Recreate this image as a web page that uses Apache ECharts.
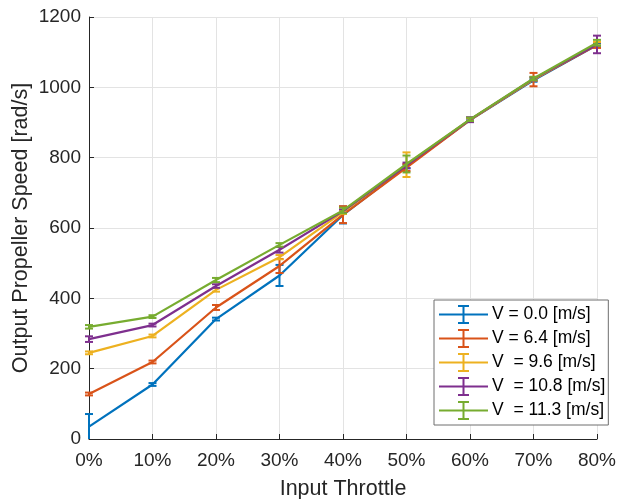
<!DOCTYPE html>
<html>
<head>
<meta charset="utf-8">
<script src="https://cdn.jsdelivr.net/npm/echarts@6/dist/echarts.min.js"></script>
<style>
  html, body { margin: 0; padding: 0; background: #fff; }
  #chart { width: 619px; height: 499px; }
</style>
</head>
<body>
<div id="chart"></div>
<script>
// Throttle settings (%)
const throttle = [0, 10, 20, 30, 40, 50, 60, 70, 80];

// Mean propeller speed [rad/s] per airspeed
const speedV00  = [35, 155, 341, 465, 637, 775, 907, 1020, 1120];
const speedV64  = [128, 219, 374, 492, 638, 772, 907, 1022, 1120];
const speedV96  = [245, 293, 424, 517, 645, 780, 908, 1023, 1124];
const speedV108 = [284, 324, 435, 538, 648, 778, 908, 1024, 1122];
const speedV113 = [319, 348, 452, 552, 650, 782, 909, 1025, 1127];

// Error half-widths [rad/s]
const errV00  = [36, 4, 4, 30, 24, 5, 4, 4, 5];
const errV64  = [4, 4, 7, 20, 24, 10, 5, 19, 8];
const errV96  = [4, 4, 5, 6, 5, 35, 5, 5, 5];
const errV108 = [8, 4, 5, 8, 5, 8, 7, 5, 25];
const errV113 = [5, 4, 6, 5, 8, 24, 5, 5, 8];

const seriesNames = ['V = 0.0 [m/s]', 'V = 6.4 [m/s]', 'V  = 9.6 [m/s]', 'V  = 10.8 [m/s]', 'V  = 11.3 [m/s]'];
const seriesColors = ['#0072BD', '#D95319', '#EDB120', '#7E2F8E', '#77AC30'];
const seriesMeans = [speedV00, speedV64, speedV96, speedV108, speedV113];
const seriesErrs = [errV00, errV64, errV96, errV108, errV113];

const FONT = '"Liberation Sans", Arial, Helvetica, sans-serif';
const Y_MIN = 0;

function errorBarRenderer(color) {
  return function (params, api) {
    const x = api.value(0);
    const lo = api.value(1);
    const hi = api.value(2);
    const loClamped = Math.max(lo, Y_MIN);
    const pLo = api.coord([x, loClamped]);
    const pHi = api.coord([x, hi]);
    const hw = 4;
    const style = { stroke: color, lineWidth: 2, fill: null };
    const children = [
      { type: 'line', shape: { x1: pLo[0], y1: pLo[1], x2: pHi[0], y2: pHi[1] }, style: style },
      { type: 'line', shape: { x1: pHi[0] - hw, y1: pHi[1], x2: pHi[0] + hw, y2: pHi[1] }, style: style }
    ];
    if (lo >= Y_MIN) {
      children.push({ type: 'line', shape: { x1: pLo[0] - hw, y1: pLo[1], x2: pLo[0] + hw, y2: pLo[1] }, style: style });
    }
    return { type: 'group', children: children };
  };
}

const series = [];
seriesNames.forEach(function (name, i) {
  const means = seriesMeans[i];
  const errs = seriesErrs[i];
  series.push({
    name: name,
    type: 'line',
    data: throttle.map(function (t, k) { return [t, means[k]]; }),
    showSymbol: false,
    symbol: 'none',
    lineStyle: { color: seriesColors[i], width: 2.2 },
    itemStyle: { color: seriesColors[i] },
    z: 10 + 2 * i,
    animation: false
  });
  series.push({
    name: name,
    type: 'custom',
    clip: false,
    data: throttle.map(function (t, k) { return [t, means[k] - errs[k], means[k] + errs[k]]; }),
    renderItem: errorBarRenderer(seriesColors[i]),
    encode: { x: 0, y: [1, 2] },
    itemStyle: { color: seriesColors[i] },
    z: 11 + 2 * i,
    animation: false
  });
});

// Legend icon: line with an error bar through it
const legendIcon = 'path://M0,8.5h49v2h-49z M23.5,1h2v17h-2z M19,0h11v2h-11z M19,17h11v2h-11z';

const chart = echarts.init(document.getElementById('chart'), null, { renderer: 'canvas' });
chart.setOption({
  animation: false,
  backgroundColor: '#ffffff',
  color: seriesColors,
  grid: { left: 89, right: 22, top: 17, bottom: 60, containLabel: false, outerBoundsMode: 'none' },
  xAxis: {
    type: 'value',
    min: 0,
    max: 80,
    interval: 10,
    name: 'Input Throttle',
    nameLocation: 'middle',
    nameGap: 39,
    nameMoveOverlap: false,
    nameTextStyle: { fontFamily: FONT, fontSize: 21.5, color: '#262626' },
    axisLine: { show: true, lineStyle: { color: '#262626', width: 1 } },
    axisTick: { show: true, inside: true, length: 5, lineStyle: { color: '#262626' } },
    axisLabel: { formatter: '{value}%', fontFamily: FONT, fontSize: 19, color: '#262626', margin: 12 },
    splitLine: { show: true, lineStyle: { color: '#e3e3e3', width: 1 } }
  },
  yAxis: {
    type: 'value',
    min: 0,
    max: 1200,
    interval: 200,
    name: 'Output Propeller Speed [rad/s]',
    nameLocation: 'middle',
    nameGap: 57,
    nameMoveOverlap: false,
    nameTextStyle: { fontFamily: FONT, fontSize: 21.5, color: '#262626' },
    axisLine: { show: true, lineStyle: { color: '#262626', width: 1 } },
    axisTick: { show: true, inside: true, length: 5, lineStyle: { color: '#262626' } },
    axisLabel: { formatter: function (v) { return String(v); }, fontFamily: FONT, fontSize: 19, color: '#262626', margin: 8 },
    splitLine: { show: true, lineStyle: { color: '#e3e3e3', width: 1 } }
  },
  legend: {
    data: seriesNames,
    orient: 'vertical',
    left: 434,
    top: 300,
    padding: [5, 3, 5, 5],
    itemWidth: 49,
    itemHeight: 19,
    itemGap: 5,
    icon: legendIcon,
    itemStyle: { borderWidth: 0 },
    backgroundColor: '#ffffff',
    borderColor: '#6e6e6e',
    borderWidth: 1,
    borderRadius: 0,
    textStyle: { fontFamily: FONT, fontSize: 17.5, color: '#000000', padding: [0, 0, 0, -1] },
    selectedMode: false
  },
  series: series
});
</script>
</body>
</html>
